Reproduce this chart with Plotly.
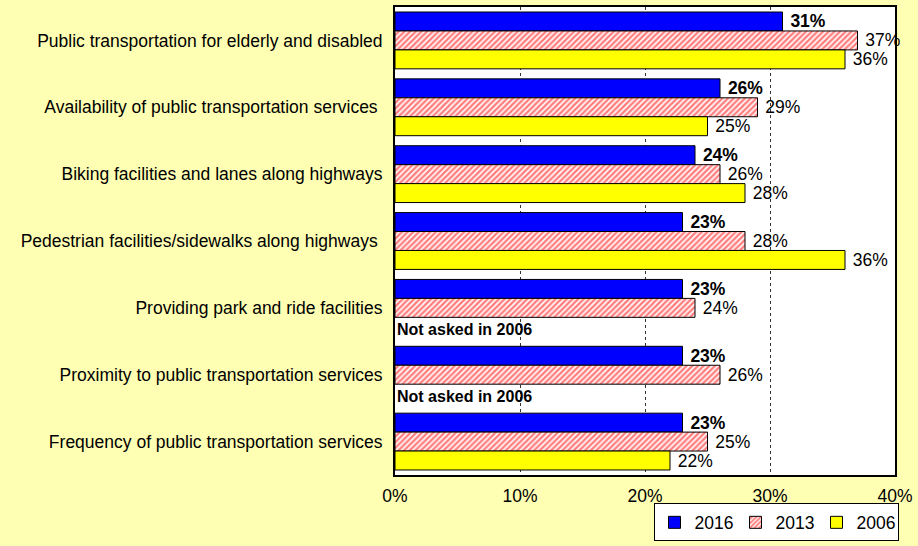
import plotly.graph_objects as go

categories = [
    "Public transportation for elderly and disabled",
    "Availability of public transportation services\u00a0",
    "Biking facilities and lanes along highways",
    "Pedestrian facilities/sidewalks along highways\u00a0",
    "Providing park and ride facilities",
    "Proximity to public transportation services",
    "Frequency of public transportation services",
]
values_2016 = [31, 26, 24, 23, 23, 23, 23]
values_2013 = [37, 29, 26, 28, 24, 26, 25]
values_2006 = [36, 25, 28, 36, None, None, 22]
x_ticks = [0, 10, 20, 30, 40]
x_tick_labels = ["0%", "10%", "20%", "30%", "40%"]

FONT = "Liberation Sans, Arial, sans-serif"
BG = "#FFFFB4"
FS = 17.5
PAD = "\u00a0"

fig = go.Figure()

fig.add_trace(go.Bar(
    name="2016", y=categories, x=values_2016, orientation="h",
    marker=dict(color="#0000FF", line=dict(color="black", width=1)),
    text=[f"{PAD}<b>{v}%</b>" for v in values_2016],
    textposition="outside", cliponaxis=False, constraintext="none",
    textfont=dict(family=FONT, size=FS, color="black"),
))
fig.add_trace(go.Bar(
    name="2013", y=categories, x=values_2013, orientation="h",
    marker=dict(color="white", line=dict(color="black", width=1),
                pattern=dict(shape="/", fgcolor="#FF0000", bgcolor="white",
                             size=4, solidity=0.62)),
    text=[f"{PAD}{v}%" for v in values_2013],
    textposition="outside", cliponaxis=False, constraintext="none",
    textfont=dict(family=FONT, size=FS, color="black"),
))
fig.add_trace(go.Bar(
    name="2006", y=categories, x=values_2006, orientation="h",
    marker=dict(color="#FFFF00", line=dict(color="black", width=1)),
    text=[f"{PAD}{v}%" if v is not None else "" for v in values_2006],
    textposition="outside", cliponaxis=False, constraintext="none",
    textfont=dict(family=FONT, size=FS, color="black"),
))

# Notes where the 2006 survey did not include the item
bar_slot = (1 - 0.15) / 3
for i, v in enumerate(values_2006):
    if v is None:
        fig.add_annotation(
            x=0, y=i + bar_slot, xref="x", yref="y",
            text="<b>Not asked in 2006</b>", showarrow=False,
            xanchor="left", yanchor="middle", xshift=0, yshift=-3,
            font=dict(family=FONT, size=16, color="black"),
        )

fig.update_layout(
    width=918, height=546,
    margin=dict(l=395, r=21, t=5, b=70),
    paper_bgcolor=BG, plot_bgcolor="white",
    barmode="group", bargap=0.15, bargroupgap=0,
    font=dict(family=FONT, size=FS, color="black"),
    showlegend=True,
    legend=dict(
        orientation="h", x=1.007, xanchor="right", y=-0.142, yanchor="bottom",
        bgcolor="white", bordercolor="black", borderwidth=1,
        font=dict(family=FONT, size=FS, color="black"),
        traceorder="normal", itemwidth=30, entrywidth=36,
    ),
)

fig.update_xaxes(
    range=[0, 40], tickvals=x_ticks, ticktext=x_tick_labels,
    showgrid=True, gridcolor="#333333", griddash="dot", gridwidth=1,
    showline=True, linecolor="black", linewidth=2, mirror=True,
    zeroline=False, ticks="", tickfont=dict(family=FONT, size=FS),
    ticklabelstandoff=4,
)
fig.update_yaxes(
    autorange="reversed", showgrid=False,
    showline=True, linecolor="black", linewidth=2, mirror=True,
    ticks="", tickfont=dict(family=FONT, size=FS), ticklabelstandoff=7,
)

fig.write_html("out.html")
